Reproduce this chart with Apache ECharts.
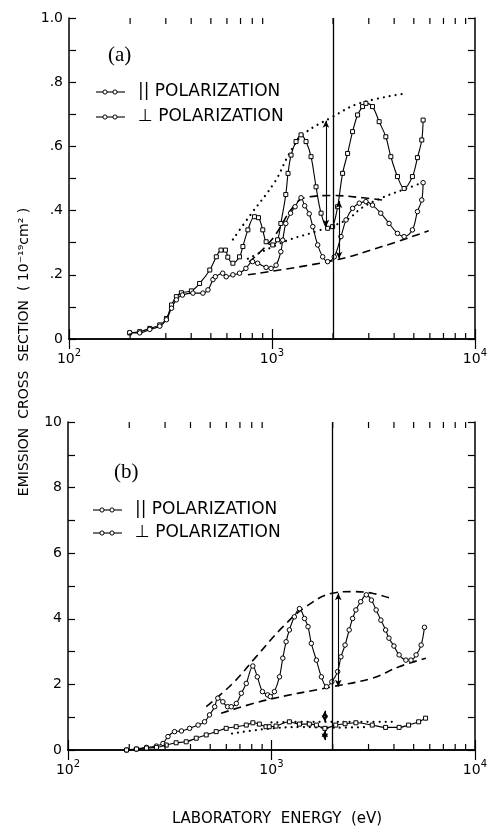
<!DOCTYPE html>
<html><head><meta charset="utf-8">
<script src="https://cdn.jsdelivr.net/npm/echarts@6/dist/echarts.min.js"></script>
<style>html,body{margin:0;padding:0;background:#fff}#c{width:490px;height:827px}</style>
</head><body><div id="c"></div>
<script>
// ---------- Panel (a) data ----------
const aParX = [199,223,250,280,302,320,338,358,401,440,494,532,561,590,606,642,692,719,761,820,858,901,936,1009,1066,1106,1170,1200,1242,1314,1391,1472,1558,1649,1746,1881,1990,2106,2229,2359,2496,2642,2795,2903,3129,3374,3640,3853,4153,4479,4922,5210,5472,5556];
const aParY = [0.019,0.023,0.033,0.044,0.064,0.106,0.132,0.144,0.15,0.173,0.215,0.256,0.277,0.277,0.255,0.236,0.256,0.288,0.34,0.381,0.378,0.34,0.303,0.293,0.309,0.36,0.45,0.516,0.573,0.615,0.636,0.615,0.568,0.474,0.392,0.345,0.35,0.412,0.516,0.578,0.646,0.698,0.724,0.734,0.724,0.677,0.63,0.568,0.506,0.469,0.506,0.565,0.62,0.682];
const aPerpX = [199,223,250,280,302,320,338,362,408,457,484,512,526,572,595,642,692,744,803,850,936,990,1048,1106,1130,1170,1235,1300,1391,1450,1526,1589,1680,1778,1881,2028,2188,2317,2496,2692,2903,3129,3436,3776,4153,4479,4922,5210,5472,5556];
const aPerpY = [0.02,0.019,0.03,0.04,0.06,0.096,0.122,0.137,0.143,0.143,0.153,0.185,0.194,0.205,0.194,0.2,0.205,0.22,0.241,0.236,0.223,0.22,0.23,0.272,0.308,0.36,0.392,0.412,0.44,0.415,0.39,0.35,0.293,0.256,0.241,0.256,0.319,0.371,0.407,0.423,0.428,0.417,0.392,0.36,0.329,0.319,0.34,0.397,0.433,0.487];
const aDotUpX = [642,771,1034,1219,1417,1990,2692,4560];
const aDotUpY = [0.31,0.381,0.49,0.578,0.636,0.692,0.734,0.765];
const aDotLowX = [761,1170,1649,2317,2795,3486,4560,5540];
const aDotLowY = [0.25,0.305,0.335,0.37,0.41,0.44,0.468,0.487];
const aDashUpX = [771,1000,1265,1450,1990,2800,3486];
const aDashUpY = [0.24,0.31,0.41,0.44,0.447,0.44,0.433];
const aDashLowX = [761,1990,3486,5920];
const aDashLowY = [0.2,0.244,0.288,0.337];
const aArrows = [[1845,0.35,0.68],[2140,0.25,0.43]]; // x, from, to

// ---------- Panel (b) data ----------
const bOscX = [194,217,243,272,293,310,334,361,396,436,469,496,526,545,577,609,634,672,711,752,810,852,903,958,987,1034,1095,1137,1180,1225,1296,1373,1454,1513,1570,1663,1760,1865,1980,2115,2195,2300,2410,2505,2600,2745,2925,3100,3270,3450,3640,3780,4000,4240,4580,4850,5140,5440,5650];
const bOscY = [0.0,0.03,0.08,0.12,0.2,0.41,0.56,0.58,0.66,0.76,0.86,1.07,1.32,1.58,1.47,1.32,1.32,1.42,1.73,2.03,2.56,2.23,1.78,1.68,1.63,1.78,2.23,2.8,3.3,3.66,4.06,4.31,4.01,3.76,3.25,2.74,2.23,1.93,2.08,2.39,2.84,3.2,3.66,4.01,4.27,4.52,4.73,4.57,4.27,3.96,3.66,3.41,3.17,2.9,2.74,2.74,2.9,3.2,3.74];
const bFlatX = [194,217,243,272,304,340,381,427,478,535,599,671,752,810,872,940,975,1053,1225,1373,1535,1663,1830,2070,2300,2600,3130,3640,4240,4720,5290,5720];
const bFlatY = [0,0.03,0.06,0.08,0.15,0.22,0.25,0.36,0.46,0.56,0.66,0.71,0.76,0.83,0.79,0.71,0.71,0.73,0.86,0.79,0.79,0.76,0.66,0.76,0.8,0.83,0.76,0.69,0.69,0.76,0.86,0.97];
const bDotUpX = [1000,1500,2000,3000,4100];
const bDotUpY = [0.84,0.86,0.86,0.86,0.86];
const bDotLowX = [640,900,1400,2000,3000];
const bDotLowY = [0.5,0.63,0.7,0.68,0.7];
const bDashUpX = [478,645,840,1140,1475,1990,2500,3130,3860];
const bDashUpY = [1.32,2.03,2.84,3.76,4.37,4.78,4.83,4.78,4.62];
const bDashLowX = [566,940,1990,3130,4240,5740];
const bDashLowY = [1.12,1.52,1.93,2.19,2.54,2.8];
const bArrows = [[2130,1.93,4.78],[1830,1.2,0.85],[1830,0.3,0.6]];

// ---------- axes ----------
const xMin = 100, xMax = 10000;
const xMinorTicks = [200,300,400,500,600,700,800,900,2000,3000,4000,5000,6000,7000,8000,9000];
const refLineX = 2000;
const aYMax = 1, aYStep = 0.1;
const bYMax = 10, bYStep = 1;
const legendLabels = ['|| POLARIZATION', '\u22A5 POLARIZATION'];

const chart = echarts.init(document.getElementById('c'));
const pairs = (xs, ys) => xs.map((x, i) => [x, ys[i]]);
const FONT = 'DejaVu Sans';

function xAx(grid, top) {
  return {
    type: 'log', logBase: 10, min: xMin, max: xMax, gridIndex: grid,
    position: top ? 'top' : 'bottom',
    axisLine: {show: true, lineStyle: {color: '#000', width: 1.5}},
    axisTick: {show: true, inside: true, length: 10, lineStyle: {color: '#000', width: 1.2}},
    splitLine: {show: false}, minorTick: {show: false},
    axisLabel: top ? {show: false} : {
      show: true, margin: 9, color: '#000',
      formatter: v => '{b|10}{s|' + Math.round(Math.log10(v)) + '}',
      rich: {b: {fontSize: 14, fontFamily: FONT, color: '#000', lineHeight: 18, verticalAlign: 'bottom'},
             s: {fontSize: 10, fontFamily: FONT, color: '#000', lineHeight: 18, verticalAlign: 'top'}}
    }
  };
}
function yAx(grid, right, max, step, fmt) {
  return {
    type: 'value', min: 0, max: max, interval: step, gridIndex: grid,
    position: right ? 'right' : 'left',
    axisLine: {show: true, lineStyle: {color: '#000', width: 1.5}},
    axisTick: {show: true, inside: true, length: 7, lineStyle: {color: '#000', width: 1.2}},
    splitLine: {show: false},
    axisLabel: right ? {show: false} : {show: true, margin: 6, color: '#000', fontSize: 14, fontFamily: FONT, formatter: fmt}
  };
}
const aFmt = v => { const k = Math.round(v * 10); if (k % 2) return ''; if (k === 0) return '0'; if (k === 10) return '1.0'; return '.' + k; };
const bFmt = v => { const k = Math.round(v); return k % 2 ? '' : String(k); };

function curve(xi, data, symbol) {
  return {type: 'line', xAxisIndex: xi, yAxisIndex: xi, data: data, smooth: 0.35,
    symbol: symbol, symbolSize: symbol === 'rect' ? 4 : 4.5, showSymbol: true,
    lineStyle: {color: '#000', width: 1.1},
    itemStyle: {color: '#fff', borderColor: '#000', borderWidth: 1}, z: 3};
}
function dotted(xi, data) {
  return {type: 'line', xAxisIndex: xi, yAxisIndex: xi, data: data, smooth: 0.4, symbol: 'none',
    lineStyle: {color: '#000', width: 2.2, type: [0.01, 6], cap: 'round'}, z: 2};
}
function dashed(xi, data) {
  return {type: 'line', xAxisIndex: xi, yAxisIndex: xi, data: data, smooth: 0.4, symbol: 'none',
    lineStyle: {color: '#000', width: 1.6, type: [8, 5], cap: 'butt'}, z: 2};
}
function ticks(xi, ymax) {
  return {type: 'custom', xAxisIndex: xi, yAxisIndex: xi, clip: false, silent: true, z: 5,
    data: xMinorTicks.map(v => [v, 0]),
    renderItem: (p, api) => {
      const v = api.value(0); const b = api.coord([v, 0]); const t = api.coord([v, ymax]);
      const st = {stroke: '#000', lineWidth: 1.2};
      return {type: 'group', children: [
        {type: 'line', shape: {x1: b[0], y1: b[1], x2: b[0], y2: b[1] - 6}, style: st},
        {type: 'line', shape: {x1: t[0], y1: t[1], x2: t[0], y2: t[1] + 6}, style: st}]};
    }};
}
function refLine(xi) {
  return {type: 'line', xAxisIndex: xi, yAxisIndex: xi, data: [], silent: true,
    markLine: {silent: true, animation: false, symbol: ['none', 'none'],
      label: {show: false}, lineStyle: {color: '#000', width: 1.3, type: 'solid'}, data: [{xAxis: refLineX}]}};
}
function arrows(xi, arr) {
  return {type: 'line', xAxisIndex: xi, yAxisIndex: xi, data: [], silent: true,
    markLine: {silent: true, animation: false, symbol: ['arrow', 'arrow'], symbolSize: [5, 7],
      label: {show: false}, lineStyle: {color: '#000', width: 1.1, type: 'solid'},
      data: arr.map(a => [{coord: [a[0], a[1]]}, {coord: [a[0], a[2]]}])}};
}

function legendGfx(x0, y1, y2, label, ly) {
  const els = [];
  [y1, y2].forEach((y, i) => {
    els.push({type: 'line', shape: {x1: x0, y1: y, x2: x0 + 29, y2: y}, style: {stroke: '#000', lineWidth: 1.1}});
    [x0 + 9, x0 + 19].forEach(cx => els.push({type: 'circle', shape: {cx: cx, cy: y, r: 2.1}, style: {fill: '#fff', stroke: '#000', lineWidth: 1}}));
    els.push({type: 'text', x: x0 + 42, y: y, style: {text: legendLabels[i], font: '17px "DejaVu Sans"', fill: '#000', textVerticalAlign: 'middle'}});
  });
  els.push({type: 'text', x: ly[0], y: ly[1], style: {text: label, font: '21px "Liberation Serif"', fill: '#000', textVerticalAlign: 'middle'}});
  return els;
}

const option = {
  animation: false,
  backgroundColor: '#fff',
  grid: [{left: 69, top: 18, width: 407, height: 321}, {left: 68, top: 422, width: 409, height: 328}],
  xAxis: [xAx(0, false), xAx(0, true), xAx(1, false), xAx(1, true)],
  yAxis: [yAx(0, false, aYMax, aYStep, aFmt), yAx(0, true, aYMax, aYStep, aFmt), yAx(1, false, bYMax, bYStep, bFmt), yAx(1, true, bYMax, bYStep, bFmt)],
  series: [
    refLine(0),
    arrows(0, aArrows),
    dotted(0, pairs(aDotUpX, aDotUpY)),
    dotted(0, pairs(aDotLowX, aDotLowY)),
    dashed(0, pairs(aDashUpX, aDashUpY)),
    dashed(0, pairs(aDashLowX, aDashLowY)),
    curve(0, pairs(aParX, aParY), 'rect'),
    curve(0, pairs(aPerpX, aPerpY), 'circle'),
    ticks(0, aYMax),
    refLine(2),
    arrows(2, bArrows),
    dotted(2, pairs(bDotUpX, bDotUpY)),
    dotted(2, pairs(bDotLowX, bDotLowY)),
    dashed(2, pairs(bDashUpX, bDashUpY)),
    dashed(2, pairs(bDashLowX, bDashLowY)),
    curve(2, pairs(bOscX, bOscY), 'circle'),
    curve(2, pairs(bFlatX, bFlatY), 'rect'),
    ticks(2, bYMax)
  ],
  graphic: [].concat(
    legendGfx(96, 92, 117, '(a)', [108, 55]),
    legendGfx(93, 510, 533, '(b)', [114, 472]),
    [{type: 'text', x: 24, y: 352, rotation: Math.PI / 2,
      style: {text: 'EMISSION  CROSS  SECTION  ( 10\u207B\u00B9\u2079cm\u00B2 )', font: '14px "DejaVu Sans"', fill: '#000', textAlign: 'center', textVerticalAlign: 'middle'}},
     {type: 'text', x: 277, y: 819,
      style: {text: 'LABORATORY  ENERGY  (eV)', font: '15px "DejaVu Sans"', fill: '#000', textAlign: 'center', textVerticalAlign: 'middle'}}]
  )
};
chart.setOption(option);
</script></body></html>
